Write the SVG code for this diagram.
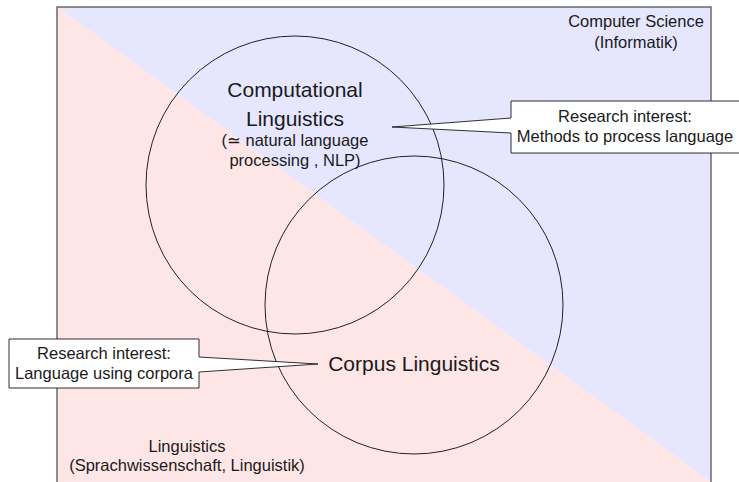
<svg xmlns="http://www.w3.org/2000/svg" width="739" height="482" viewBox="0 0 739 482">
<style>
  text { font-family: "Liberation Sans", "DejaVu Sans", sans-serif; fill: #1a1a1a; text-anchor: middle; }
  .sm { font-size: 16.5px; }
  .lg { font-size: 21px; }
  .circle { fill: none; stroke: #222; stroke-width: 1; }
  .callout { fill: #ffffff; stroke: #1a1a1a; stroke-width: 0.9; stroke-linejoin: miter; }
</style>
<rect x="0" y="0" width="739" height="482" fill="#ffffff"/>
<g id="background">
  <polygon points="57,7 711,7 711,482" fill="#e6e6ff"/>
  <polygon points="57,7 711,482 711,486 57,486" fill="#ffe6e6"/>
  <rect x="57" y="7" width="654" height="479" fill="none" stroke="#555" stroke-width="1.3"/>
</g>
<g id="computer-science">
  <text class="sm" x="636" y="27">Computer Science</text>
  <text class="sm" x="636" y="48">(Informatik)</text>
</g>
<g id="linguistics">
  <text class="sm" x="187" y="452">Linguistics</text>
  <text class="sm" x="187" y="471">(Sprachwissenschaft, Linguistik)</text>
</g>
<g id="computational-linguistics">
  <circle class="circle" cx="295" cy="185" r="149"/>
  <text class="lg" x="295" y="97">Computational</text>
  <text class="lg" x="295" y="126">Linguistics</text>
  <text class="sm" x="295" y="146">(≃ natural language</text>
  <text class="sm" x="295" y="166">processing , NLP)</text>
</g>
<g id="corpus-linguistics">
  <circle class="circle" cx="414" cy="305" r="149"/>
  <text class="lg" x="414" y="371">Corpus Linguistics</text>
</g>
<g id="connectors">
  <path class="callout" d="M511,101 H741 V153 H511 V133 L392,127 L511,118 Z"/>
  <path class="callout" d="M9,339 H199 V357 L318,364 L199,372 V388 H9 Z"/>
</g>
<g id="callout-methods">
  <text class="sm" x="625" y="122">Research interest:</text>
  <text class="sm" x="625" y="142">Methods to process language</text>
</g>
<g id="callout-corpora">
  <text class="sm" x="104" y="359">Research interest:</text>
  <text class="sm" x="104" y="379">Language using corpora</text>
</g>
</svg>
